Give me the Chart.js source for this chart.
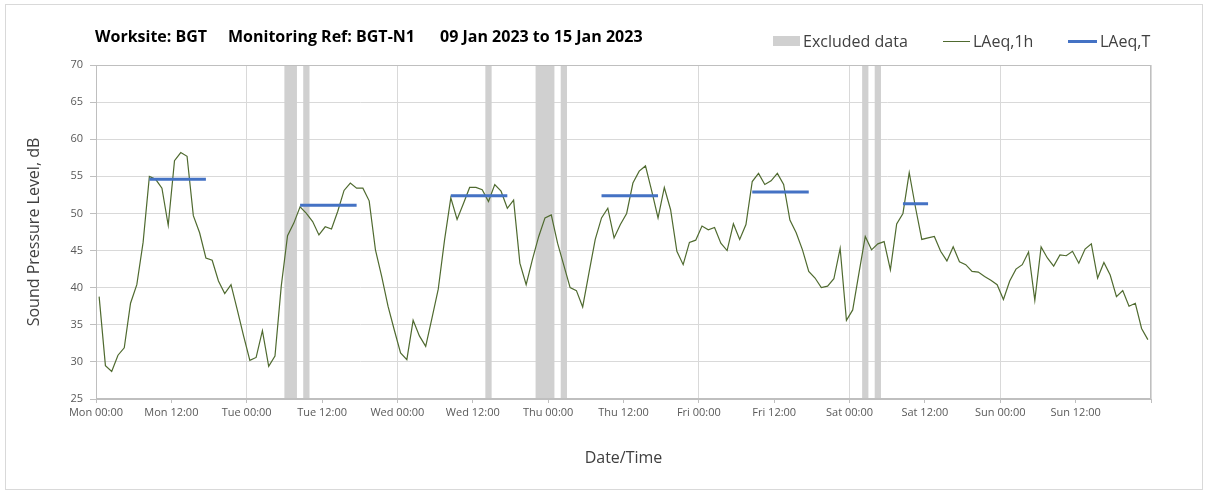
<!DOCTYPE html>
<html>
<head>
<meta charset="utf-8">
<script src="https://cdn.jsdelivr.net/npm/chart.js@4"></script>
<style>
html,body{margin:0;padding:0;background:#fff;}
#wrap{position:relative;width:1208px;height:494px;overflow:hidden;font-family:'Open Sans',sans-serif;}
#frame{position:absolute;left:5px;top:4px;width:1198px;height:486px;border:1px solid #d9d9d9;box-sizing:border-box;pointer-events:none;}
.tpart{position:absolute;top:26px;font-weight:bold;font-size:16px;color:#000;white-space:nowrap;line-height:20px;}
.leg{position:absolute;top:31px;height:20px;display:flex;align-items:center;font-size:16px;color:#404040;white-space:nowrap;}
.mk{display:inline-block;margin-right:3px;}
canvas{position:absolute;left:0;top:0;}
</style>
</head>
<body>
<div id="wrap">
  <canvas id="c" width="1208" height="494"></canvas>
  <div id="frame"></div>
  <div id="titles"></div>
  <div id="legend"></div>
</div>
<script>
// ---------- data ----------
const titleParts = ["Worksite: BGT", "Monitoring Ref: BGT-N1", "09 Jan 2023 to 15 Jan 2023"];
const tickLabels = ["Mon 00:00","Mon 12:00","Tue 00:00","Tue 12:00","Wed 00:00","Wed 12:00","Thu 00:00","Thu 12:00","Fri 00:00","Fri 12:00","Sat 00:00","Sat 12:00","Sun 00:00","Sun 12:00",""];
const legendLabels = ["Excluded data", "LAeq,1h", "LAeq,T"];

// hourly LAeq,1h values, Mon 00:00 .. Sun 23:00
const laeq1h = [
38.8,29.5,28.7,30.9,31.9,37.9,40.4,46.1,55.0,54.6,53.4,48.4,57.1,58.2,57.7,49.7,47.4,44.0,43.7,40.9,39.2,40.4,37.0,33.5,
30.2,30.6,34.2,29.4,30.8,40.2,47.0,48.7,50.9,50.0,48.9,47.1,48.2,47.9,50.3,53.1,54.1,53.4,53.4,51.7,45.1,41.5,37.5,34.3,
31.2,30.3,35.6,33.5,32.1,35.9,39.8,46.4,52.1,49.2,51.3,53.5,53.5,53.2,51.6,53.9,53.0,50.7,51.8,43.3,40.4,43.8,46.9,49.4,
49.8,46.0,43.0,40.0,39.6,37.4,42.0,46.5,49.4,50.7,46.7,48.5,50.0,54.1,55.7,56.4,53.0,49.4,53.5,50.5,44.9,43.1,46.1,46.4,
48.3,47.8,48.1,46.0,45.0,48.6,46.5,48.5,54.3,55.4,53.9,54.4,55.4,53.9,49.1,47.4,45.1,42.2,41.3,40.0,40.2,41.2,45.3,35.6,
37.0,42.0,46.9,45.1,45.9,46.2,42.4,48.6,50.0,55.5,50.8,46.5,46.7,46.9,44.9,43.6,45.5,43.5,43.1,42.2,42.1,41.5,41.0,40.4,
38.4,40.9,42.5,43.1,44.8,38.3,45.5,44.0,42.9,44.4,44.3,44.9,43.3,45.2,45.9,41.3,43.4,41.7,38.8,39.6,37.5,37.9,34.5,33.0
];

// LAeq,T periods (first and last hour index) and values
const periodStart = [8, 32, 56, 80, 104, 128];
const periodEnd   = [17, 41, 65, 89, 113, 132];
const laeqT       = [54.6, 51.1, 52.4, 52.4, 52.9, 51.3];

// excluded data periods, hours from Mon 00:00
const excludedStart = [30, 33, 62, 70, 74, 122, 124];
const excludedEnd   = [32, 34, 63, 73, 75, 123, 125];

// ---------- styles ----------
const GREEN = '#4f6a2f', BLUE = '#4472C4', BAND = '#d0d0d0';
const legendColors = [BAND, GREEN, BLUE];

// ---------- titles / legend (text) ----------
const titleLefts = [95, 228, 440];
const titlesDiv = document.getElementById('titles');
titleParts.forEach((t, k) => {
  const s = document.createElement('div');
  s.className = 'tpart'; s.style.left = titleLefts[k] + 'px'; s.textContent = t;
  titlesDiv.appendChild(s);
});
const legLefts = [773, 943, 1068];
const legMarks = [{w:27,h:10},{w:27,h:1},{w:29,h:3}];
const legDiv = document.getElementById('legend');
legendLabels.forEach((t, k) => {
  const it = document.createElement('div');
  it.className = 'leg'; it.style.left = legLefts[k] + 'px';
  const m = document.createElement('span');
  m.className = 'mk'; m.style.width = legMarks[k].w + 'px'; m.style.height = legMarks[k].h + 'px';
  m.style.background = legendColors[k];
  const tx = document.createElement('span'); tx.textContent = t;
  it.appendChild(m); it.appendChild(tx);
  legDiv.appendChild(it);
});

// ---------- chart ----------
const greenData = laeq1h.map((v, i) => ({x: i + 0.5, y: v}));
const blueData = [];
laeqT.forEach((v, k) => {
  blueData.push({x: periodStart[k] + 0.5, y: v});
  blueData.push({x: periodEnd[k] + 0.5, y: v});
  blueData.push({x: periodEnd[k] + 0.5, y: null});
});

const bandPlugin = {
  id: 'bands',
  beforeDatasetsDraw(chart) {
    const {ctx, chartArea: {top, bottom, left, right}, scales: {x}} = chart;
    ctx.save();
    ctx.fillStyle = BAND;
    excludedStart.forEach((s, k) => {
      const x0 = x.getPixelForValue(s), x1 = x.getPixelForValue(excludedEnd[k]);
      ctx.fillRect(x0, top, x1 - x0, bottom - top);
    });
    ctx.strokeStyle = '#bfbfbf';
    ctx.lineWidth = 1;
    ctx.strokeRect(Math.round(left) + 0.5, Math.round(top) + 0.5, Math.round(right - left) - 1, Math.round(bottom - top) - 1);
    ctx.restore();
  }
};

Chart.defaults.font.family = "'Open Sans', sans-serif";

new Chart(document.getElementById('c'), {
  type: 'line',
  data: {
    datasets: [
      {label: legendLabels[2], data: blueData, borderColor: BLUE, borderWidth: 3, pointRadius: 0, spanGaps: false, borderCapStyle: 'butt', order: 0},
      {label: legendLabels[1], data: greenData, borderColor: GREEN, borderWidth: 1.2, pointRadius: 0, tension: 0, order: 1}
    ]
  },
  options: {
    responsive: false,
    animation: false,
    layout: {padding: {left: 0, right: 57, top: 65, bottom: 0}},
    plugins: {legend: {display: false}, title: {display: false}, tooltip: {enabled: false}},
    scales: {
      x: {
        type: 'linear', min: 0, max: 168,
        afterFit(s) { s.height = 95; },
        ticks: {stepSize: 12, autoSkip: false, maxRotation: 0, minRotation: 0,
          callback: (v, i) => tickLabels[i] ?? '', font: {size: 11}, color: '#595959', padding: 3},
        grid: {color: c => (c.index % 2 === 0 ? '#d9d9d9' : 'rgba(0,0,0,0)'), tickColor: '#bfbfbf', tickLength: 4},
        border: {color: '#bfbfbf'},
        title: {display: true, text: 'Date/Time', font: {size: 16}, color: '#404040', padding: {top: 0, bottom: 26}}
      },
      y: {
        min: 25, max: 70,
        afterFit(s) { s.width = 96; },
        ticks: {stepSize: 5, font: {size: 11}, color: '#595959', padding: 7},
        grid: {color: '#d9d9d9', tickColor: '#bfbfbf', tickLength: 6},
        border: {color: '#bfbfbf'},
        title: {display: true, text: 'Sound Pressure Level, dB', font: {size: 16}, color: '#404040', padding: {top: 25, bottom: 0}}
      }
    }
  },
  plugins: [bandPlugin]
});
</script>
</body>
</html>
